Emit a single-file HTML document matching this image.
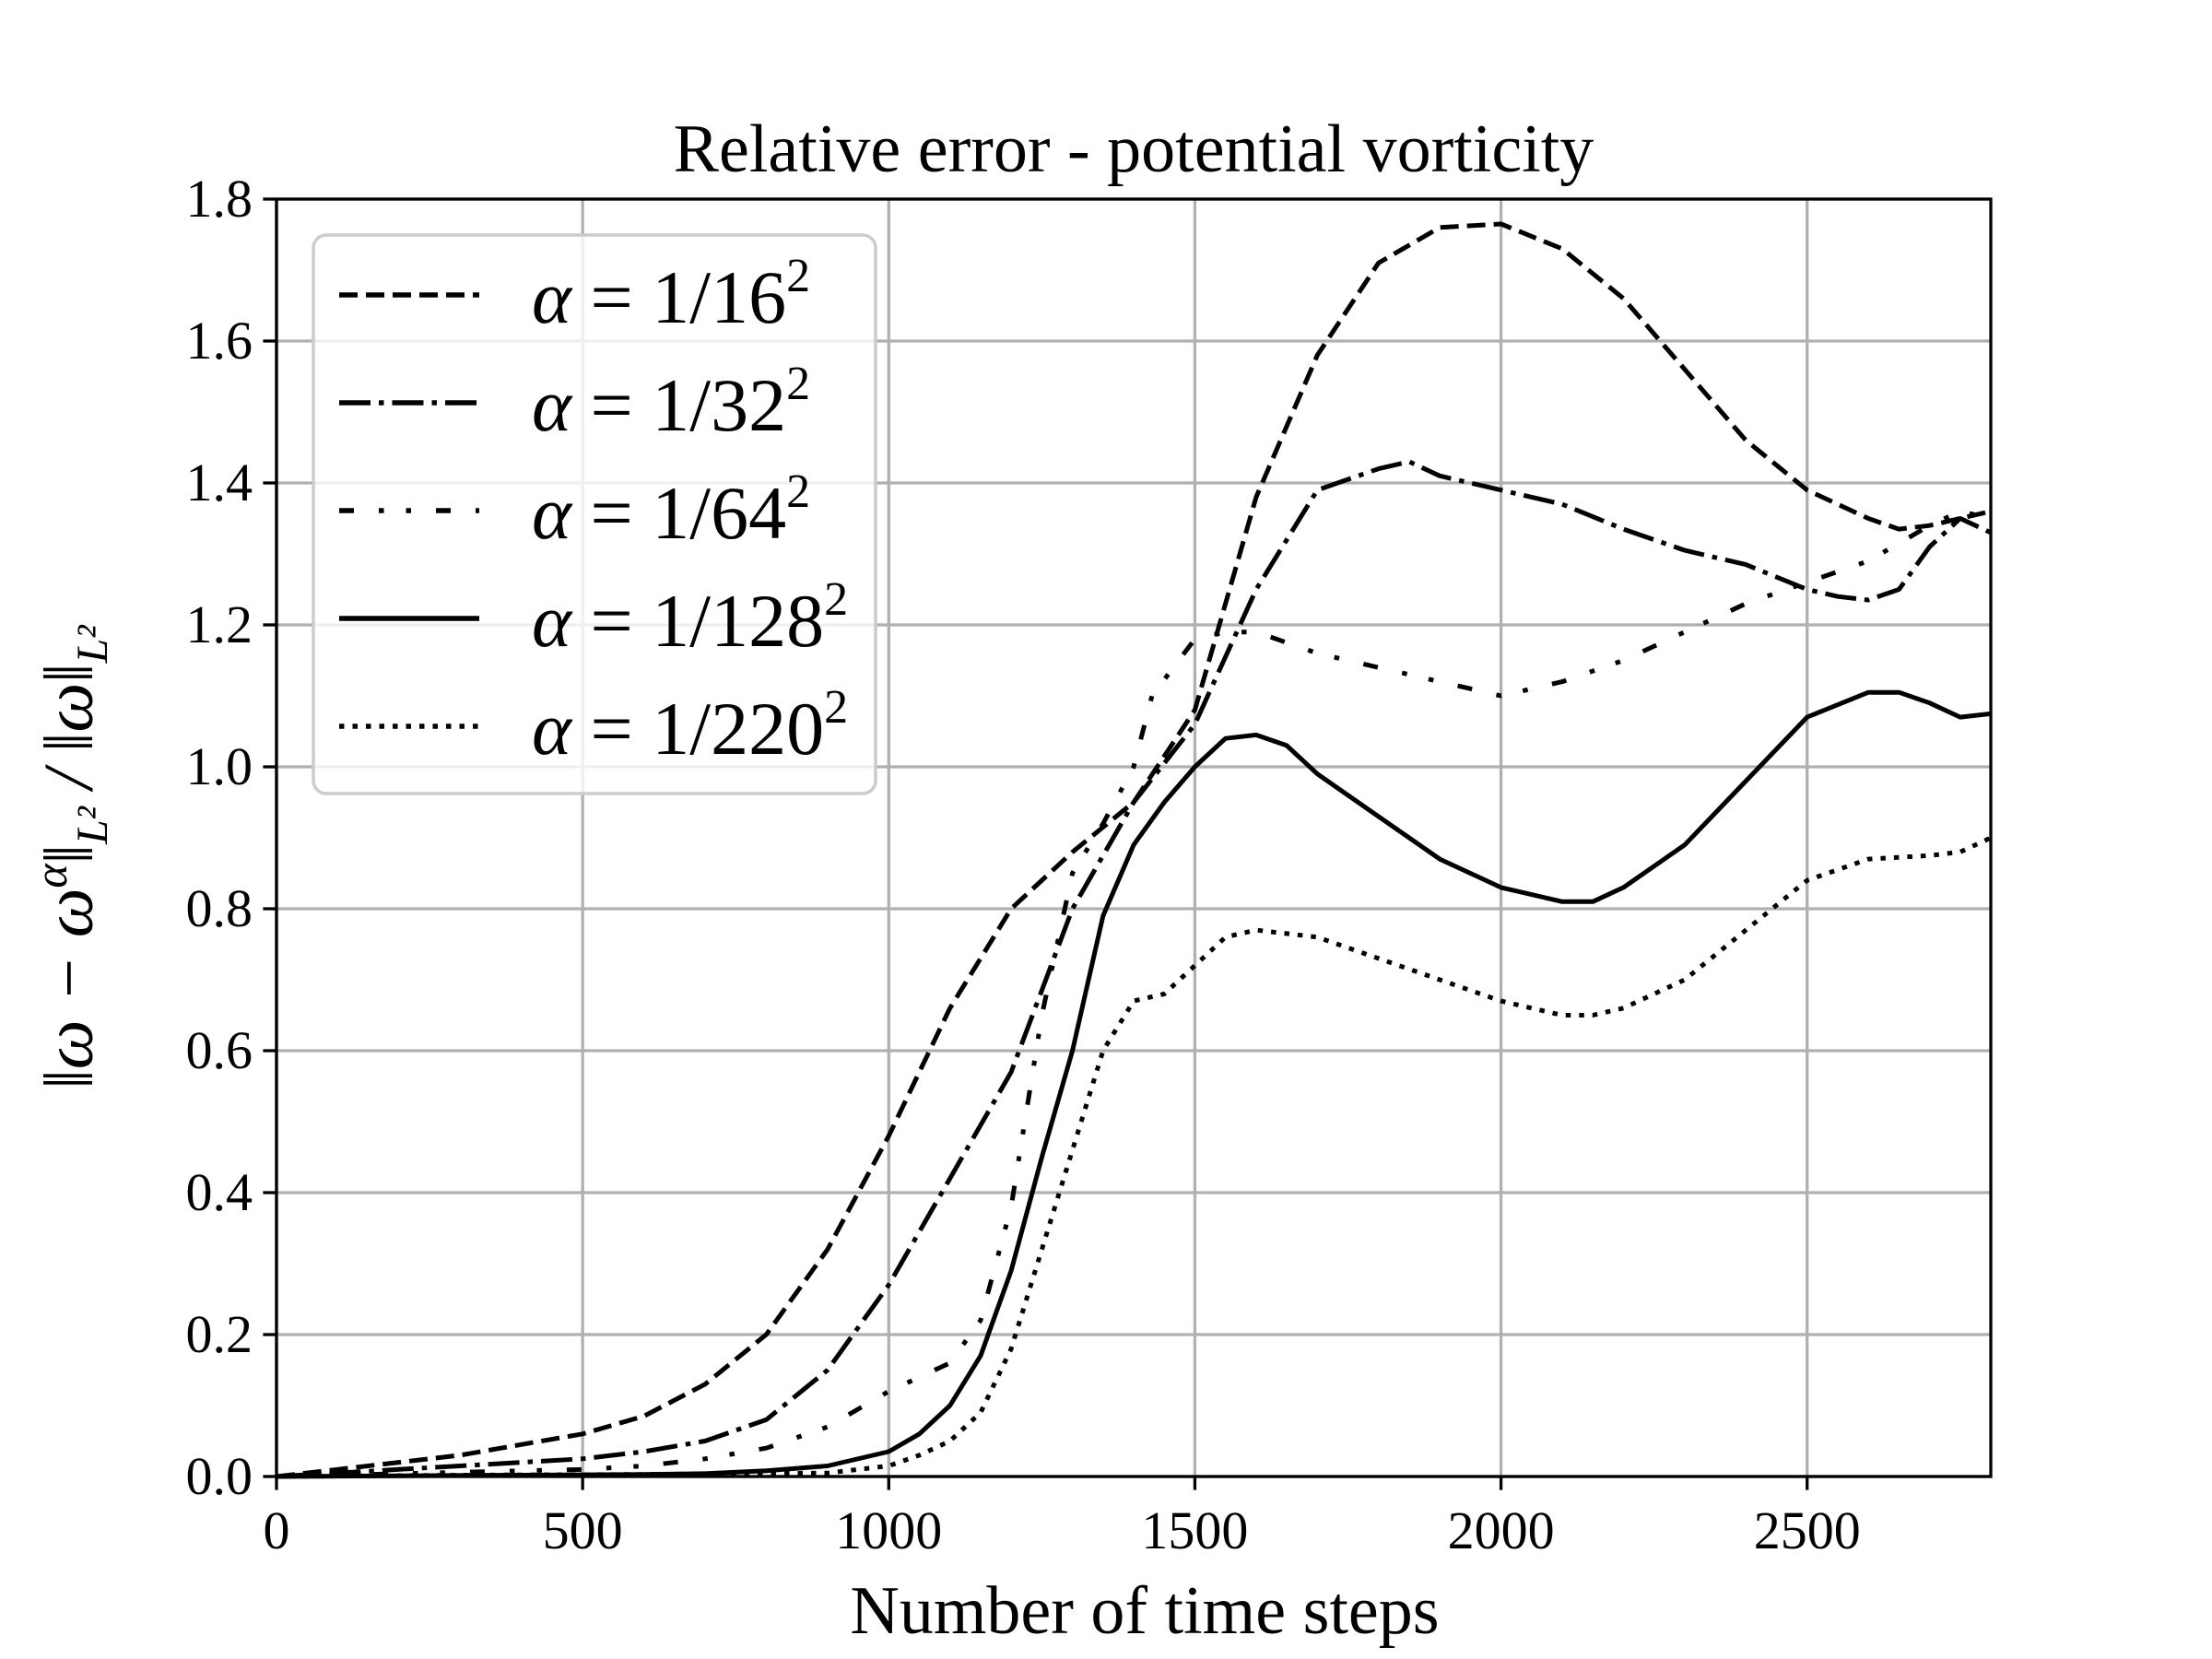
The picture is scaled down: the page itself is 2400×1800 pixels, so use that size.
<!DOCTYPE html>
<html><head><meta charset="utf-8"><style>
html,body{margin:0;padding:0;background:#fff;}
svg{display:block;font-family:"Liberation Serif","DejaVu Serif",serif;}
</style></head><body>
<svg id="chart" width="2400" height="1800" viewBox="0 0 2400 1800" xmlns="http://www.w3.org/2000/svg">
<rect width="2400" height="1800" fill="#fff"/>
<g id="grid"></g>
<g id="series"></g>
<rect x="300" y="216" width="1860" height="1386" fill="none" stroke="#000" stroke-width="3.3"/>
<g id="ticks"></g>
<text x="1230" y="186" font-size="74" text-anchor="middle">Relative error - potential vorticity</text>
<text x="1242" y="1772" font-size="74" text-anchor="middle">Number of time steps</text>
<text transform="translate(100,930) rotate(-90)" font-size="76" text-anchor="middle" font-style="italic">‖ω − ω<tspan font-size="50" dy="-28">α</tspan><tspan dy="28">‖</tspan><tspan font-size="48" dy="16">L²</tspan><tspan dy="-16"> / ‖ω‖</tspan><tspan font-size="48" dy="16">L²</tspan></text>
<g id="legend"></g>
</svg>
<script>
const xTicks=[0,500,1000,1500,2000,2500];
const yTicks=[0.0,0.2,0.4,0.6,0.8,1.0,1.2,1.4,1.6,1.8];
const yTickLabels=["0.0","0.2","0.4","0.6","0.8","1.0","1.2","1.4","1.6","1.8"];
const seriesLabels=["1/16","1/32","1/64","1/128","1/220"];
const x16=[0,100,200,300,400,500,600,700,800,900,1000,1100,1200,1300,1400,1500,1600,1700,1800,1900,2000,2100,2200,2300,2400,2500,2600,2650,2700,2800];
const y16=[0,0.01,0.02,0.03,0.045,0.06,0.085,0.13,0.2,0.32,0.48,0.66,0.8,0.88,0.95,1.08,1.38,1.58,1.71,1.76,1.765,1.73,1.66,1.56,1.46,1.39,1.35,1.335,1.34,1.36];
const x32=[0,100,200,300,400,500,600,700,800,900,1000,1100,1200,1300,1400,1500,1600,1700,1800,1850,1900,2000,2100,2200,2300,2400,2500,2550,2600,2650,2700,2750,2800];
const y32=[0,0.005,0.01,0.015,0.02,0.025,0.035,0.05,0.08,0.15,0.27,0.42,0.57,0.8,0.95,1.06,1.25,1.39,1.42,1.43,1.41,1.39,1.37,1.335,1.305,1.285,1.25,1.24,1.235,1.25,1.31,1.35,1.33];
const x64=[0,100,200,300,400,500,600,700,800,900,1000,1100,1150,1200,1250,1300,1350,1400,1430,1500,1550,1600,1700,1800,1900,2000,2100,2200,2300,2400,2500,2600,2700,2750,2800];
const y64=[0,0.002,0.004,0.006,0.008,0.01,0.015,0.025,0.04,0.07,0.12,0.16,0.22,0.38,0.65,0.85,0.92,1.0,1.1,1.18,1.19,1.19,1.16,1.14,1.12,1.1,1.12,1.15,1.19,1.23,1.26,1.29,1.34,1.36,1.35];
const x128=[0,200,400,600,700,800,900,1000,1050,1100,1150,1200,1250,1300,1350,1400,1450,1500,1550,1600,1650,1700,1800,1900,2000,2100,2150,2200,2300,2400,2500,2600,2650,2700,2750,2800];
const y128=[0,0.001,0.002,0.003,0.004,0.008,0.015,0.035,0.06,0.1,0.17,0.29,0.45,0.6,0.79,0.89,0.95,1.0,1.04,1.045,1.03,0.99,0.93,0.87,0.83,0.81,0.81,0.83,0.89,0.98,1.07,1.105,1.105,1.09,1.07,1.075];
const x220=[0,300,600,900,1000,1050,1100,1150,1200,1250,1300,1350,1400,1450,1500,1550,1600,1700,1800,1900,2000,2100,2150,2200,2300,2400,2500,2600,2700,2750,2800];
const y220=[0,0.002,0.003,0.005,0.015,0.03,0.05,0.09,0.18,0.32,0.46,0.6,0.67,0.68,0.72,0.76,0.77,0.76,0.73,0.7,0.67,0.65,0.65,0.66,0.7,0.77,0.84,0.87,0.875,0.88,0.9];

const NS="http://www.w3.org/2000/svg";
const L=300,R=2160,T=216,B=1602,XMAX=2800,YMAX=1.8;
function sx(v){return L+(v/XMAX)*(R-L);}
function sy(v){return B-(v/YMAX)*(B-T);}
function mk(tag,attrs,parent){const e=document.createElementNS(NS,tag);for(const k in attrs)e.setAttribute(k,attrs[k]);parent.appendChild(e);return e;}
const grid=document.getElementById('grid'),ticks=document.getElementById('ticks'),series=document.getElementById('series'),legend=document.getElementById('legend');
xTicks.forEach(v=>{
  const g=mk('line',{x1:sx(v),x2:sx(v),y1:T,y2:B,stroke:'#b0b0b0','stroke-width':3.3},grid);
  
  
  const t=mk('line',{x1:sx(v),x2:sx(v),y1:B,y2:B+14.6,stroke:'#000','stroke-width':3.3},ticks);
  
  
  const l=mk('text',{x:sx(v),y:B+78,'font-size':58,'text-anchor':'middle'},ticks);
  l.textContent=String(v);
  
  
});
yTicks.forEach((v,i)=>{
  const g=mk('line',{x1:L,x2:R,y1:sy(v),y2:sy(v),stroke:'#b0b0b0','stroke-width':3.3},grid);
  
  
  const t=mk('line',{x1:L-14.6,x2:L,y1:sy(v),y2:sy(v),stroke:'#000','stroke-width':3.3},ticks);
  
  
  const l=mk('text',{x:L-26,y:sy(v)+19,'font-size':58,'text-anchor':'end'},ticks);
  l.textContent=yTickLabels[i];
  
  
});
const dashes=["20 9","34 9 5.5 9","16 27 5.5 24 5.5 27","none","5.5 9"];
const data=[[x16,y16],[x32,y32],[x64,y64],[x128,y128],[x220,y220]];
const names=["line-alpha-16","line-alpha-32","line-alpha-64","line-alpha-128","line-alpha-220"];
data.forEach((d,i)=>{
  const pts=d[0].map((x,j)=>sx(x).toFixed(1)+','+sy(d[1][j]).toFixed(1)).join(' ');
  const p=mk('polyline',{points:pts,fill:'none',stroke:'#000','stroke-width':5,'stroke-linejoin':'round','stroke-dasharray':dashes[i]},series);
  
  
});
const box=mk('rect',{x:340,y:255,width:610,height:606,rx:14,fill:'#fff','fill-opacity':0.8,stroke:'#cccccc','stroke-width':3.5},legend);


seriesLabels.forEach((s,i)=>{
  const cy=320+i*117;
  const g=mk('g',{},legend);
  
  
  mk('line',{x1:368,x2:520,y1:cy,y2:cy,stroke:'#000','stroke-width':5.5,'stroke-dasharray':dashes[i]},g);
  const t=mk('text',{x:577,y:cy+30,'font-size':82},g);
  t.innerHTML='<tspan font-style="italic">α</tspan> = '+s+'<tspan font-size="52" dy="-34">2</tspan>';
});
</script>
</body></html>
